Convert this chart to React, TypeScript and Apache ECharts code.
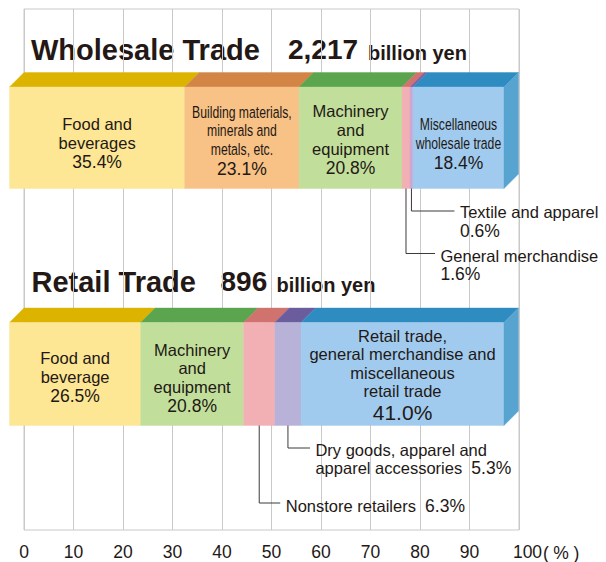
import React, { useEffect, useRef } from 'react';
import * as echarts from 'echarts';

// ---------- data ----------
const axisMin = 0;
const axisMax = 100;
const axisStep = 10;
const axisUnitParts = ['(', '%', ')'];
const unitLabel = 'billion yen';

const sectionTitles = ['Wholesale Trade', 'Retail Trade'];
const sectionTotals = [2217, 896];

const wholesaleCategories = [
  'Food and\nbeverages',
  'Building materials,\nminerals and\nmetals, etc.',
  'Machinery\nand\nequipment',
  'General merchandise',
  'Textile and apparel',
  'Miscellaneous\nwholesale trade',
];
const wholesaleShares = [35.4, 23.1, 20.8, 1.6, 0.6, 18.4];

const retailCategories = [
  'Food and\nbeverage',
  'Machinery\nand\nequipment',
  'Nonstore retailers',
  'Dry goods, apparel and\napparel accessories',
  'Retail trade,\ngeneral merchandise and\nmiscellaneous\nretail trade',
];
const retailShares = [26.5, 20.8, 6.3, 5.3, 41.0];

// ---------- styles & layout ----------
const INK = '#231815';
const GRID = '#c9c9c9';
const LEADER = '#3e3a39';
const LABEL_FONT = "'Liberation Sans', Arial, sans-serif";
const TITLE_FONT = "'Liberation Sans', Arial, sans-serif";
const DEPTH = 14.5;
const NAME_SIZE = 16.5;
const NAME_LH = 18.6;
const PCT_SIZE = 17.5;
const PCT_LH = 20.5;
const NARROW_SCALE = 0.74;

const C = {
  food: { front: '#fde694', top: '#dcb400' },
  build: { front: '#f8c185', top: '#d38546' },
  mach: { front: '#c1df9b', top: '#5ba54f' },
  pink: { front: '#f2b0b4', top: '#d0736f' },
  lilac: { front: '#cfa7d3', top: '#8161a5' },
  lav: { front: '#b8b2d9', top: '#6b5c9e' },
  blue: { front: '#a0cbee', top: '#2e8cc1', side: '#58a4d0' },
};

type Lay = { kind: 'in' | 'leader'; narrow?: boolean; dy?: number; big?: boolean; drop?: number; run?: number; sep?: string; tdy?: number };

const ROWS = [
  {
    title: sectionTitles[0], total: sectionTotals[0],
    cats: wholesaleCategories, shares: wholesaleShares,
    colors: [C.food, C.build, C.mach, C.pink, C.lilac, C.blue],
    layout: [
      { kind: 'in', dy: 6 },
      { kind: 'in', narrow: true, dy: 3 },
      { kind: 'in', dy: 2.5 },
      { kind: 'leader', drop: 65, run: 29, sep: '\n', tdy: -7 },
      { kind: 'leader', drop: 22.5, run: 43, sep: '\n', tdy: -8 },
      { kind: 'in', narrow: true, dy: 6.5 },
    ] as Lay[],
    frontTop: 87, frontBottom: 188.5,
    titleX: 31, totalX: 288, unitX: 368, baseline: 59.5,
  },
  {
    title: sectionTitles[1], total: sectionTotals[1],
    cats: retailCategories, shares: retailShares,
    colors: [C.food, C.mach, C.pink, C.lav, C.blue],
    layout: [
      { kind: 'in', dy: 3.5 },
      { kind: 'in', dy: 4.5 },
      { kind: 'leader', drop: 77.5, run: 21, sep: '  ', tdy: -6.5 },
      { kind: 'leader', drop: 22.5, run: 22, sep: '  ', tdy: -7.5 },
      { kind: 'in', dy: 1.5, big: true },
    ] as Lay[],
    frontTop: 322.5, frontBottom: 425.5,
    titleX: 31.5, totalX: 220.5, unitX: 276.5, baseline: 291.5,
  },
];

const pct = (v: number) => v.toFixed(1) + '%';

function makeSeries(row: typeof ROWS[number]) {
  let acc = 0;
  const data = row.shares.map((v, i) => {
    const s = acc;
    acc += v;
    return [s, v, i];
  });
  const last = row.shares.length - 1;
  return {
    type: 'custom',
    silent: true,
    encode: { x: [0] },
    data,
    renderItem: (_params: any, api: any) => {
      const s = api.value(0) as number;
      const v = api.value(1) as number;
      const i = api.value(2) as number;
      const xs = api.coord([s, 0])[0] - DEPTH;
      const xe = api.coord([s + v, 0])[0] - DEPTH;
      const top = row.frontTop;
      const bot = row.frontBottom;
      const col: any = row.colors[i];
      const lay = row.layout[i];
      const children: any[] = [];
      children.push({
        type: 'polygon',
        shape: { points: [[xs, top], [xs + DEPTH, top - DEPTH], [xe + DEPTH, top - DEPTH], [xe, top]] },
        style: { fill: col.top, stroke: col.top, lineWidth: 0.4 },
      });
      children.push({
        type: 'rect',
        shape: { x: xs, y: top, width: xe - xs, height: bot - top },
        style: { fill: col.front, stroke: col.front, lineWidth: 0.4 },
      });
      if (i === last) {
        children.push({
          type: 'polygon',
          shape: { points: [[xe, top], [xe + DEPTH, top - DEPTH], [xe + DEPTH, bot - DEPTH], [xe, bot]] },
          style: { fill: col.side, stroke: col.side, lineWidth: 0.4 },
        });
      }
      const name = row.cats[i];
      const cx = (xs + xe) / 2;
      if (lay.kind === 'in') {
        const pSize = lay.big ? 21 : PCT_SIZE;
        const pLh = lay.big ? 24 : PCT_LH;
        const nLines = name.split('\n').length;
        const H = nLines * NAME_LH + pLh;
        const y0 = (top + bot) / 2 + (lay.dy || 0) - H / 2;
        children.push({
          type: 'text',
          x: cx,
          y: y0,
          scaleX: lay.narrow ? NARROW_SCALE : 1,
          style: {
            text: `{n|${name}}`,
            x: 0,
            y: 0,
            align: 'center',
            verticalAlign: 'top',
            fill: INK,
            rich: {
              n: { fontFamily: LABEL_FONT, fontSize: NAME_SIZE, lineHeight: NAME_LH, fill: INK, align: 'center' },
            },
          },
        });
        children.push({
          type: 'text',
          x: cx,
          y: y0 + nLines * NAME_LH,
          style: {
            text: `{p|${pct(v)}}`,
            x: 0,
            y: 0,
            align: 'center',
            verticalAlign: 'top',
            fill: INK,
            rich: {
              p: { fontFamily: LABEL_FONT, fontSize: pSize, lineHeight: pLh, fill: INK, align: 'center' },
            },
          },
        });
      } else {
        const ly = bot + (lay.drop || 0);
        const run = lay.run || 0;
        children.push({
          type: 'polyline',
          shape: { points: [[cx, bot], [cx, ly], [cx + run, ly]] },
          style: { stroke: LEADER, lineWidth: 1, fill: null },
        });
        const sep = lay.sep === '\n' ? '\n' : `{n|${lay.sep}}`;
        children.push({
          type: 'text',
          style: {
            text: `{n|${name}}${sep}{p|${pct(v)}}`,
            x: cx + run + 5.5,
            y: ly + (lay.tdy || 0),
            align: 'left',
            verticalAlign: 'top',
            fill: INK,
            rich: {
              n: { fontFamily: LABEL_FONT, fontSize: NAME_SIZE, lineHeight: NAME_LH, fill: INK },
              p: { fontFamily: LABEL_FONT, fontSize: PCT_SIZE, lineHeight: NAME_LH, fill: INK },
            },
          },
        });
      }
      return { type: 'group', children };
    },
  };
}

function titleGraphics() {
  const out: any[] = [];
  ROWS.forEach((row) => {
    out.push({
      type: 'text', x: row.titleX, y: row.baseline - 10, silent: true,
      style: { text: row.title, font: `bold 29px ${TITLE_FONT}`, fill: INK, verticalAlign: 'middle', align: 'left' },
    });
    out.push({
      type: 'text', x: row.totalX, y: row.baseline - 9.7, silent: true,
      style: { text: row.total.toLocaleString('en-US'), font: `bold 28px ${TITLE_FONT}`, fill: INK, verticalAlign: 'middle', align: 'left' },
    });
    out.push({
      type: 'text', x: row.unitX, y: row.baseline - 7, silent: true,
      style: { text: unitLabel, font: `bold 20px ${TITLE_FONT}`, fill: INK, verticalAlign: 'middle', align: 'left' },
    });
  });
  // axis unit, set just after the last tick label
  out.push({
    type: 'text', x: 543, y: 553, silent: true,
    style: {
      text: `{u|${axisUnitParts[0]}}{g|}{u|${axisUnitParts[1]}}{g|}{u|${axisUnitParts[2]}}`,
      verticalAlign: 'middle', align: 'left', fill: INK,
      rich: {
        u: { fontFamily: LABEL_FONT, fontSize: 17.5, fill: INK },
        g: { width: 4.5 },
      },
    },
  });
  return out;
}

export default function App() {
  const ref = useRef<HTMLDivElement>(null);
  useEffect(() => {
    if (!ref.current) return;
    const chart = echarts.init(ref.current, undefined, { renderer: 'svg' });
    chart.setOption({
      animation: false,
      backgroundColor: '#ffffff',
      grid: {
        left: 24, top: 9, width: 495, height: 521,
        show: true, borderColor: GRID, borderWidth: 1, backgroundColor: 'transparent',
        containLabel: false,
      },
      xAxis: {
        type: 'value', min: axisMin, max: axisMax, interval: axisStep,
        axisLine: { show: false }, axisTick: { show: false },
        splitLine: { show: true, lineStyle: { color: GRID, width: 1 } },
        axisLabel: {
          margin: 13,
          color: INK,
          fontFamily: LABEL_FONT,
          fontSize: 17.5,
          formatter: (v: number) => (v === axisMax ? `{pad|}{v|${v}}` : `{v|${v}}`),
          rich: {
            v: { fontFamily: LABEL_FONT, fontSize: 17.5, color: INK },
            pad: { width: 17 },
          },
        },
      },
      yAxis: { type: 'value', min: 0, max: 1, show: false },
      series: ROWS.map((r) => makeSeries(r)),
      graphic: titleGraphics(),
    });
    return () => chart.dispose();
  }, []);
  return (
    <div
      ref={ref}
      style={{ position: 'absolute', left: 0, top: 0, width: 606, height: 562, background: '#fff' }}
    />
  );
}
